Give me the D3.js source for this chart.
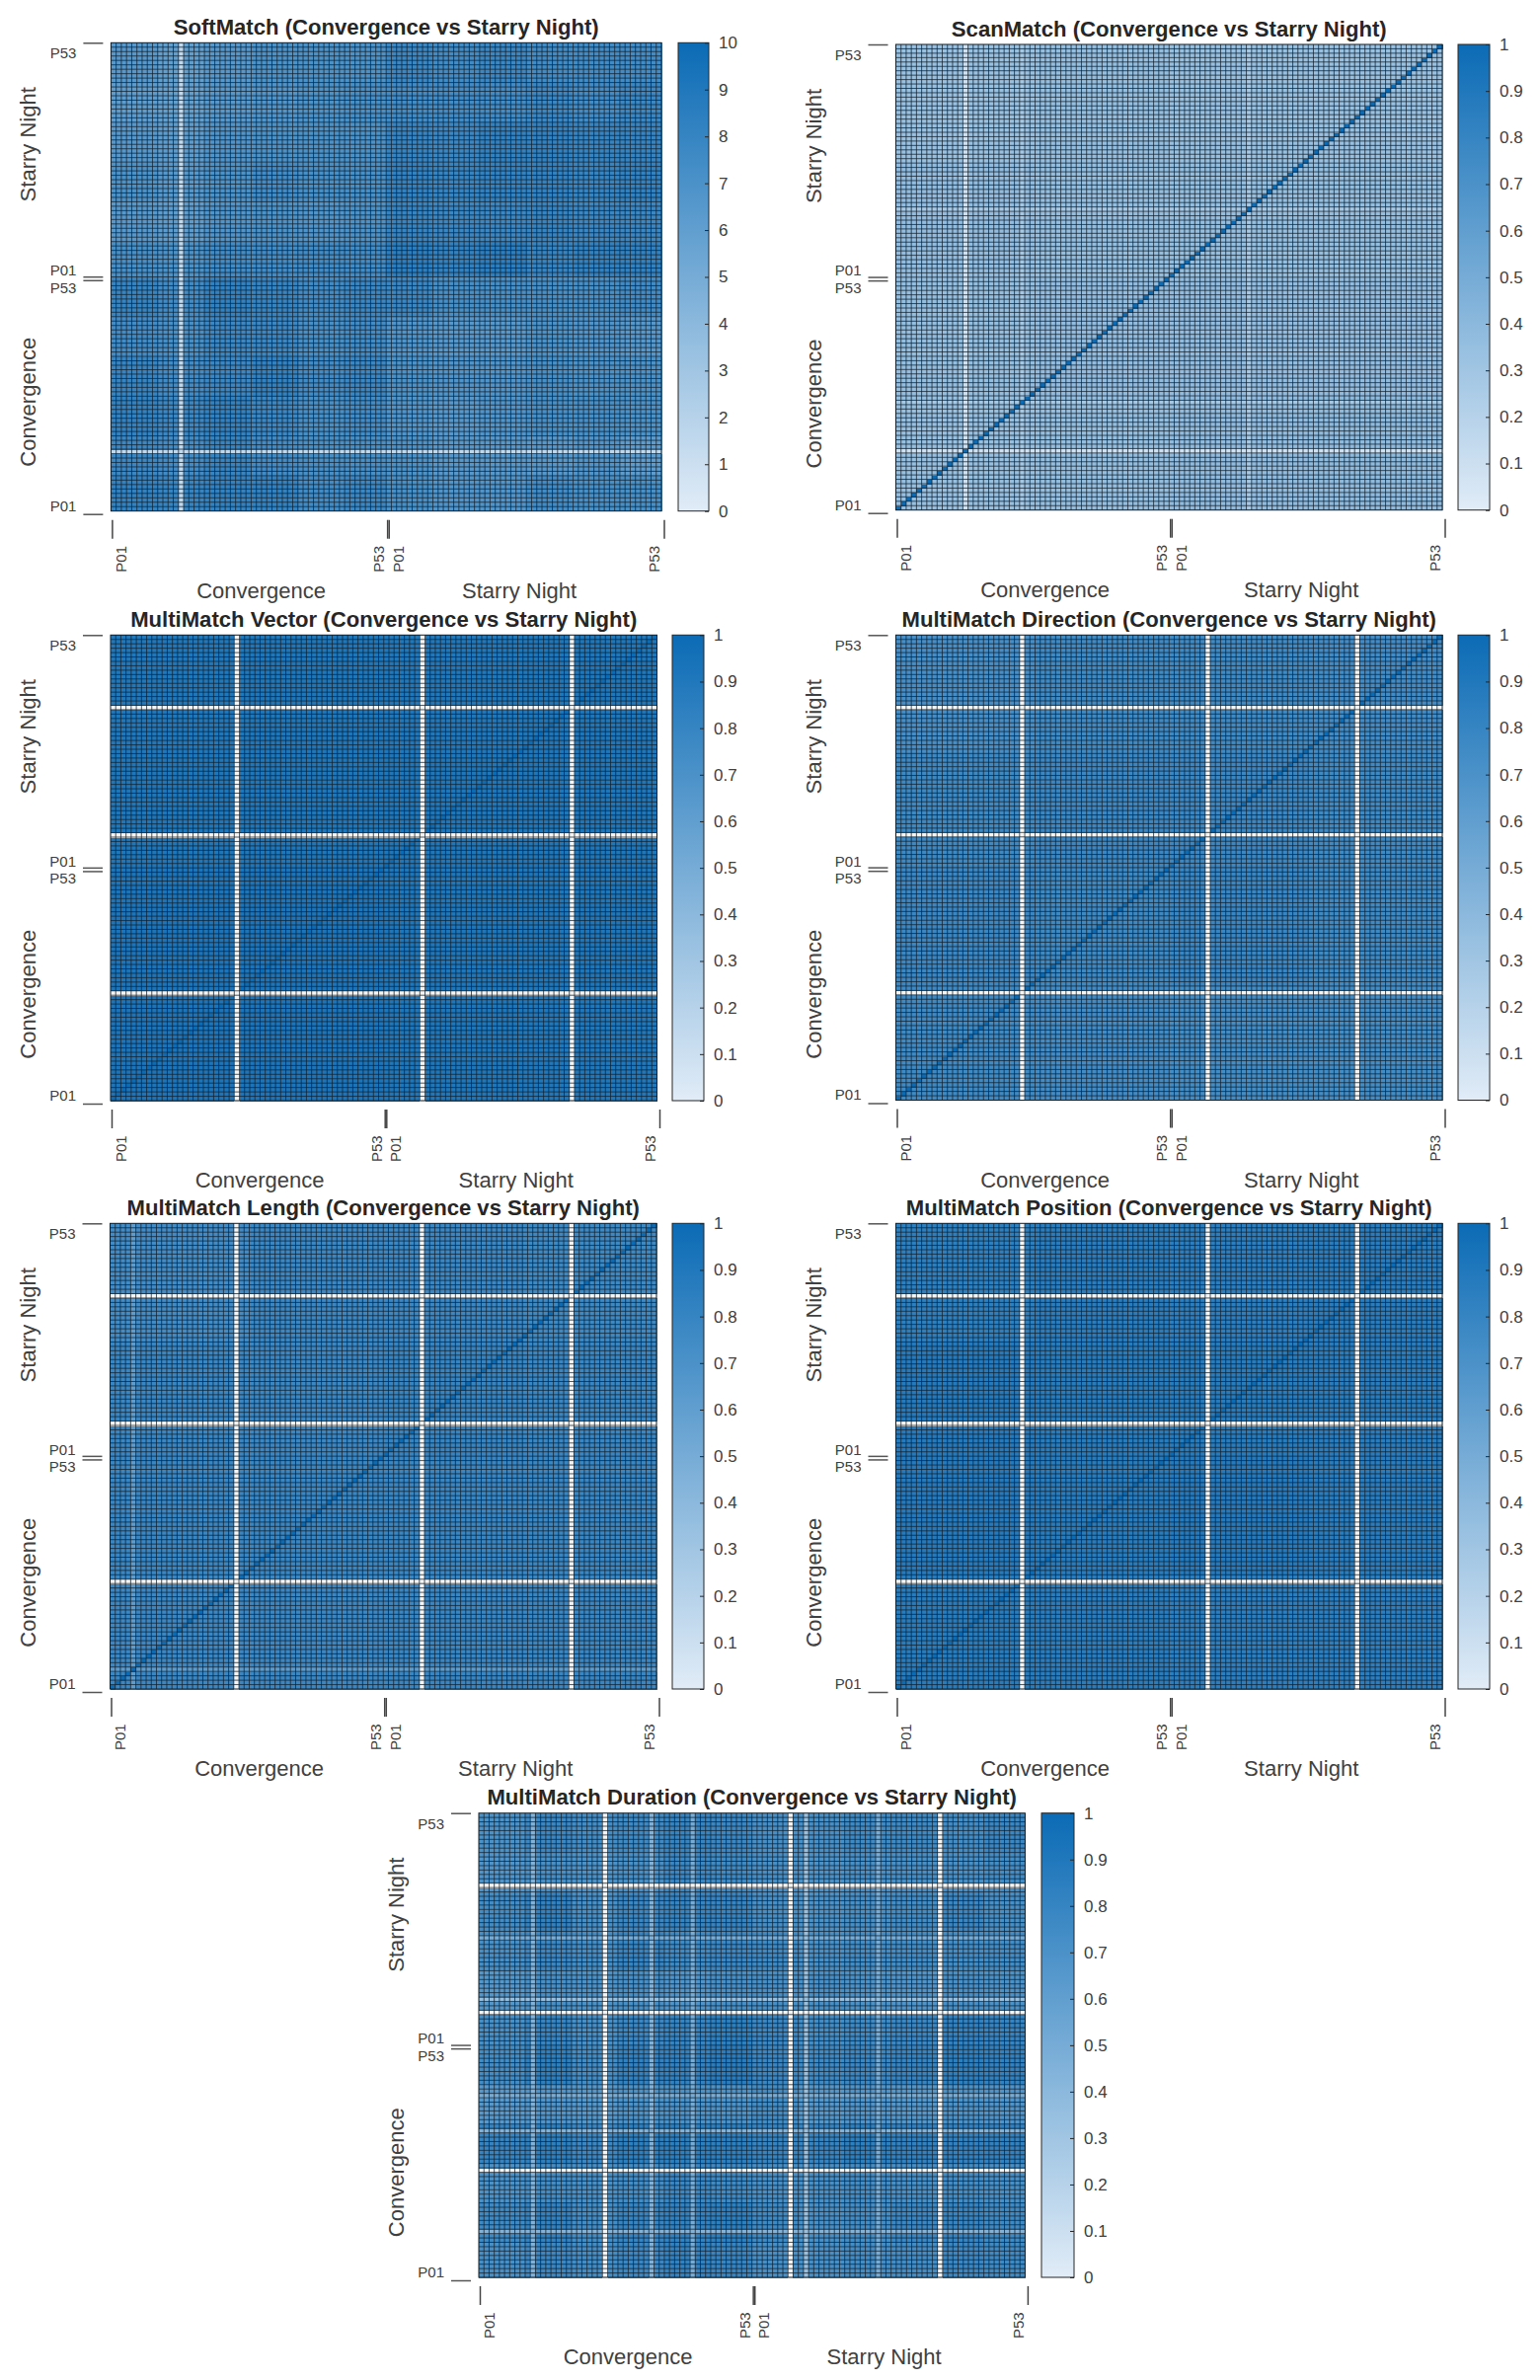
<!DOCTYPE html>
<html>
<head>
<meta charset="utf-8">
<script src="https://cdn.jsdelivr.net/npm/d3@7"></script>
<style>
  html, body { margin: 0; background: #fff; }
  svg { display: block; font-family: "Liberation Sans", Arial, sans-serif; }
</style>
</head>
<body>
<svg id="chart" width="1560" height="2411"></svg>
<script>
// coarse levels, rows top to bottom, columns left to right
const softMatchBlocks = [
  [6.5, 6.0, 6.5, 7.0, 7.0, 7.0, 7.8, 7.5, 7.8, 7.5, 7.5, 7.5],
  [6.2, 6.0, 6.5, 6.8, 7.0, 7.2, 7.5, 7.5, 7.5, 7.8, 7.5, 7.8],
  [6.5, 6.2, 6.8, 7.0, 7.0, 7.0, 8.0, 7.8, 8.2, 8.2, 8.0, 8.0],
  [7.0, 6.5, 7.0, 7.5, 7.2, 7.2, 8.2, 8.0, 8.2, 8.2, 8.0, 8.2],
  [6.5, 6.2, 6.8, 7.0, 6.8, 7.0, 8.0, 7.8, 7.8, 8.0, 7.8, 7.8],
  [7.2, 7.0, 7.5, 7.5, 7.5, 7.5, 8.5, 8.2, 8.5, 8.0, 8.2, 8.2],
  [8.0, 7.5, 8.2, 8.0, 7.5, 7.8, 7.8, 7.2, 7.2, 7.2, 7.2, 7.5],
  [7.5, 7.2, 7.8, 7.8, 7.2, 7.5, 6.8, 6.5, 6.5, 7.0, 6.8, 6.5],
  [8.0, 7.5, 7.8, 8.2, 7.5, 7.8, 7.0, 6.8, 6.8, 7.2, 7.0, 7.0],
  [8.2, 7.8, 8.2, 7.8, 7.2, 7.5, 6.8, 6.5, 6.8, 7.2, 7.2, 7.0],
  [7.8, 7.5, 8.0, 7.5, 7.2, 7.2, 7.0, 6.5, 6.5, 6.5, 6.8, 6.2],
  [8.2, 8.0, 8.2, 8.2, 7.5, 7.8, 7.2, 6.8, 6.8, 7.5, 7.2, 7.2]
]
const scanMatchBlocks = [
  [0.34, 0.36, 0.35, 0.34],
  [0.37, 0.36, 0.36, 0.36],
  [0.36, 0.37, 0.37, 0.37],
  [0.35, 0.36, 0.38, 0.39]
]
const vectorBlocks = [
  [0.90, 0.91, 0.90, 0.91],
  [0.91, 0.91, 0.91, 0.91],
  [0.92, 0.92, 0.91, 0.91],
  [0.92, 0.92, 0.91, 0.90]
]
const directionBlocks = [
  [0.73, 0.76, 0.76, 0.75],
  [0.77, 0.78, 0.78, 0.76],
  [0.78, 0.77, 0.79, 0.76],
  [0.76, 0.75, 0.74, 0.74]
]
const lengthBlocks = [
  [0.75, 0.78, 0.78, 0.77],
  [0.79, 0.78, 0.80, 0.79],
  [0.79, 0.79, 0.79, 0.79],
  [0.78, 0.78, 0.79, 0.79]
]
const positionBlocks = [
  [0.84, 0.86, 0.85, 0.86],
  [0.88, 0.87, 0.87, 0.86],
  [0.88, 0.87, 0.88, 0.86],
  [0.87, 0.86, 0.85, 0.85]
]
const durationBlocks = [
  [0.70, 0.78, 0.74, 0.76, 0.80, 0.78, 0.72, 0.72, 0.76, 0.76, 0.74, 0.78],
  [0.68, 0.72, 0.70, 0.72, 0.78, 0.76, 0.72, 0.70, 0.72, 0.72, 0.72, 0.74],
  [0.74, 0.82, 0.72, 0.78, 0.80, 0.80, 0.72, 0.70, 0.72, 0.74, 0.78, 0.72],
  [0.72, 0.78, 0.74, 0.80, 0.76, 0.78, 0.76, 0.72, 0.74, 0.74, 0.74, 0.74],
  [0.66, 0.72, 0.70, 0.72, 0.68, 0.72, 0.72, 0.72, 0.70, 0.68, 0.72, 0.70],
  [0.72, 0.80, 0.72, 0.78, 0.80, 0.84, 0.78, 0.74, 0.76, 0.78, 0.82, 0.80],
  [0.74, 0.84, 0.74, 0.82, 0.82, 0.86, 0.78, 0.76, 0.78, 0.80, 0.84, 0.82],
  [0.64, 0.68, 0.66, 0.70, 0.70, 0.70, 0.74, 0.66, 0.68, 0.66, 0.70, 0.68],
  [0.80, 0.84, 0.78, 0.84, 0.84, 0.84, 0.80, 0.80, 0.84, 0.82, 0.82, 0.82],
  [0.70, 0.74, 0.72, 0.74, 0.78, 0.76, 0.72, 0.72, 0.74, 0.72, 0.74, 0.72],
  [0.76, 0.82, 0.74, 0.80, 0.82, 0.84, 0.76, 0.72, 0.74, 0.78, 0.80, 0.76],
  [0.72, 0.78, 0.74, 0.78, 0.82, 0.80, 0.72, 0.72, 0.74, 0.74, 0.78, 0.76]
]

// participants (0 = Convergence P01) standing out in both rows and columns; null = no data
const softMatchBands = [[13, 1.5]]
const scanMatchBands = [[13, 0.08], [24, 0.28], [68, 0.27]]
const emptyBands = [[24, null], [60, null], [89, null]]
const lengthBands = [[4, 0.62], [24, null], [60, null], [89, null]]
const durationBands = [[10, 0.45], [24, null], [33, 0.45], [41, 0.5], [60, null], [63, 0.35], [77, 0.5], [89, null]]

const participantLabels = ['P01', 'P53', 'P01', 'P53']
const axisGroups = ['Convergence', 'Starry Night']
const oneTicks = [0, 0.1, 0.2, 0.3, 0.4, 0.5, 0.6, 0.7, 0.8, 0.9, 1]
const tenTicks = [0, 1, 2, 3, 4, 5, 6, 7, 8, 9, 10]
const N = 106

const COLORS = { low: '#e1ecf7', high: '#0b6bb5', empty: '#f5f5f3', grid: '#14222e', text: '#404040', title: '#262626' }

const panels = [
  { title: 'SoftMatch', blocks: softMatchBlocks, bands: softMatchBands, max: 10, cbTicks: tenTicks, diagonal: false,
    left: 112.4, right: 670, top: 43.3, bottom: 517.7, cbLeft: 687, cbRight: 718 },
  { title: 'ScanMatch', blocks: scanMatchBlocks, bands: scanMatchBands, max: 1, cbTicks: oneTicks, diagonal: true,
    left: 907.5, right: 1461, top: 45, bottom: 516.7, cbLeft: 1477, cbRight: 1509 },
  { title: 'MultiMatch Vector', blocks: vectorBlocks, bands: emptyBands, max: 1, cbTicks: oneTicks, diagonal: true,
    left: 112, right: 665.5, top: 643.3, bottom: 1115, cbLeft: 681, cbRight: 713 },
  { title: 'MultiMatch Direction', blocks: directionBlocks, bands: emptyBands, max: 1, cbTicks: oneTicks, diagonal: true,
    left: 907.5, right: 1461, top: 643.3, bottom: 1114.5, cbLeft: 1477, cbRight: 1509 },
  { title: 'MultiMatch Length', blocks: lengthBlocks, bands: lengthBands, max: 1, cbTicks: oneTicks, diagonal: true,
    left: 111.5, right: 665, top: 1239.3, bottom: 1711, cbLeft: 681, cbRight: 713 },
  { title: 'MultiMatch Position', blocks: positionBlocks, bands: emptyBands, max: 1, cbTicks: oneTicks, diagonal: true,
    left: 907.5, right: 1461, top: 1239.3, bottom: 1711, cbLeft: 1477, cbRight: 1509 },
  { title: 'MultiMatch Duration', blocks: durationBlocks, bands: durationBands, max: 1, cbTicks: oneTicks, diagonal: false,
    left: 485, right: 1038.4, top: 1836.7, bottom: 2307, cbLeft: 1055, cbRight: 1088 }
]

const svg = d3.select('#chart')
const defs = svg.append('defs')

function drawCells(g, p, color) {
  const x = d3.scaleBand().domain(d3.range(N)).range([p.left, p.right])
  const y = d3.scaleBand().domain(d3.range(N)).range([p.bottom, p.top])
  const blockRow = d3.scaleQuantize().domain([0, N]).range(d3.range(p.blocks.length))
  const blockCol = d3.scaleQuantize().domain([0, N]).range(d3.range(p.blocks[0].length))
  const bands = new Map(p.bands)

  const level = (i, j) => {
    const bi = bands.get(i), bj = bands.get(j)
    if (bi === null || bj === null) return null
    if (i === j && p.diagonal) return p.max
    let v = p.blocks[blockRow(N - 1 - j)][blockCol(i)]
    if (bi !== undefined) v = Math.min(v, bi)
    if (bj !== undefined) v = Math.min(v, bj)
    return v
  }

  g.append('g')
    .attr('shape-rendering', 'crispEdges')
    .selectAll('rect')
    .data(d3.cross(d3.range(N), d3.range(N)))
    .join('rect')
    .attr('x', d => x(d[0]))
    .attr('y', d => y(d[1]))
    .attr('width', x.bandwidth() + 0.5)
    .attr('height', y.bandwidth() + 0.5)
    .attr('fill', d => {
      const v = level(d[0], d[1])
      return v === null ? COLORS.empty : color(v)
    })

  // grid between cells
  const grid = g.append('g').attr('stroke', COLORS.grid).attr('stroke-width', 1).attr('stroke-opacity', 0.75)
  grid.selectAll('.gx').data(d3.range(1, N)).join('line').attr('class', 'gx')
    .attr('x1', d => x(d)).attr('x2', d => x(d)).attr('y1', p.top).attr('y2', p.bottom)
  grid.selectAll('.gy').data(d3.range(1, N)).join('line').attr('class', 'gy')
    .attr('y1', d => y(d) + y.bandwidth()).attr('y2', d => y(d) + y.bandwidth()).attr('x1', p.left).attr('x2', p.right)

  g.append('rect')
    .attr('x', p.left).attr('y', p.top)
    .attr('width', p.right - p.left).attr('height', p.bottom - p.top)
    .attr('fill', 'none').attr('stroke', '#10202c').attr('stroke-width', 1)
}

function drawAxes(g, p) {
  const yTicks = d3.scaleLinear().domain([0, N]).range([p.bottom + 3, p.top])
  const xTicks = d3.scaleLinear().domain([0, N]).range([p.left + 1, p.right + 2.5])

  const yAxis = g.append('g')
    .attr('transform', `translate(${p.left - 8},0)`)
    .call(d3.axisLeft(yTicks)
      .tickValues([0, 52.6, 53.4, N])
      .tickFormat((d, i) => participantLabels[i])
      .tickSize(20))
    .attr('font-family', null)
  const yDy = [-9, 7, -7, 10]
  yAxis.select('.domain').remove()
  yAxis.selectAll('line').attr('stroke', '#555').attr('stroke-width', 1.5)
  yAxis.selectAll('text')
    .attr('x', -27).attr('dy', '0.36em')
    .attr('transform', (d, i) => `translate(0,${yDy[i]})`)
    .attr('font-size', 15).attr('fill', COLORS.text)

  const xAxis = g.append('g')
    .attr('transform', `translate(0,${p.bottom + 9})`)
    .call(d3.axisBottom(xTicks)
      .tickValues([0, 52.85, 53.15, N])
      .tickFormat((d, i) => participantLabels[i])
      .tickSize(19))
    .attr('font-family', null)
  const xDx = [9, -9, 9, -10]
  xAxis.select('.domain').remove()
  xAxis.selectAll('line').attr('stroke', '#444').attr('stroke-width', 1.5)
  xAxis.selectAll('text')
    .attr('y', 0).attr('dy', '0.36em')
    .attr('text-anchor', 'start')
    .attr('transform', (d, i) => `translate(${xDx[i]},53) rotate(-90)`)
    .attr('font-size', 15).attr('fill', COLORS.text)

  const label = g.append('g').attr('font-size', 22).attr('fill', COLORS.text).attr('text-anchor', 'middle')
  const w = p.right - p.left
  label.append('text').attr('x', p.left + w * 0.273).attr('y', p.bottom + 88).text(axisGroups[0])
  label.append('text').attr('x', p.left + w * 0.742).attr('y', p.bottom + 88).text(axisGroups[1])
  label.append('text').attr('transform', `translate(${p.left - 76},${p.top + 103}) rotate(-90)`).text(axisGroups[1])
  label.append('text').attr('transform', `translate(${p.left - 76},${p.top + 364}) rotate(-90)`).text(axisGroups[0])

  g.append('text')
    .attr('x', (p.left + p.right) / 2)
    .attr('y', p.top - 8.5)
    .attr('text-anchor', 'middle')
    .attr('font-size', 22.1).attr('font-weight', 'bold').attr('fill', COLORS.title)
    .text(`${p.title} (${axisGroups[0]} vs ${axisGroups[1]})`)
}

function drawColorbar(g, p, color, id) {
  const gradient = defs.append('linearGradient')
    .attr('id', id)
    .attr('x1', 0).attr('x2', 0).attr('y1', 1).attr('y2', 0)
  gradient.selectAll('stop')
    .data(color.domain())
    .join('stop')
    .attr('offset', d => d / p.max)
    .attr('stop-color', d => color(d))

  g.append('rect')
    .attr('x', p.cbLeft).attr('y', p.top)
    .attr('width', p.cbRight - p.cbLeft).attr('height', p.bottom - p.top)
    .attr('fill', `url(#${id})`)
    .attr('stroke', '#262626').attr('stroke-width', 1)

  const scale = d3.scaleLinear().domain([0, p.max]).range([p.bottom, p.top])
  const axis = g.append('g')
    .attr('transform', `translate(${p.cbRight},0)`)
    .call(d3.axisRight(scale)
      .tickValues(p.cbTicks)
      .tickFormat(d3.format('~g'))
      .tickSize(-4)
      .tickPadding(10))
    .attr('font-family', null)
  axis.select('.domain').remove()
  axis.selectAll('line').attr('stroke', '#262626')
  axis.selectAll('text').attr('font-size', 17).attr('fill', COLORS.text)
}

panels.forEach((p, idx) => {
  const color = d3.scaleLinear().domain([0, p.max]).range([COLORS.low, COLORS.high])
  const g = svg.append('g').attr('class', 'panel')
  drawCells(g, p, color)
  drawAxes(g, p)
  drawColorbar(g, p, color, `cb${idx}`)
})
</script>
</body>
</html>
